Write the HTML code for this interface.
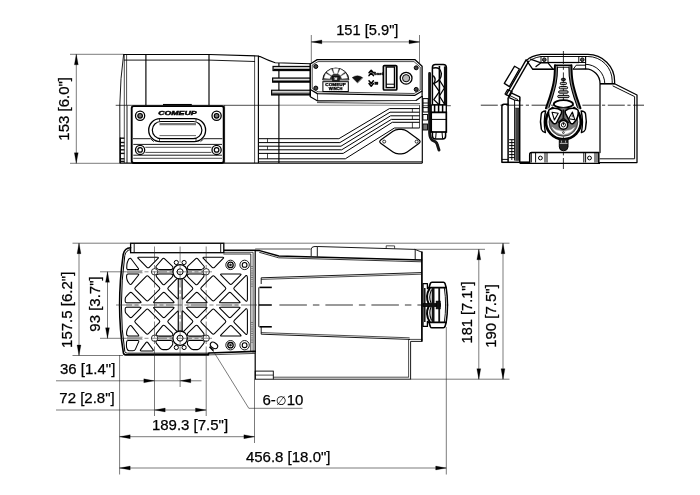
<!DOCTYPE html>
<html lang="en">
<head>
<meta charset="utf-8">
<title>Winch dimensions</title>
<style>
html,body{margin:0;padding:0;background:#fff;}
body{width:700px;height:495px;overflow:hidden;}
svg{display:block;will-change:transform;font-family:"Liberation Sans",sans-serif;}
</style>
</head>
<body>
<svg width="700" height="495" viewBox="0 0 700 495">
<rect width="700" height="495" fill="#fff"/>
<g>
<path d="M123.6,54.5 L209,54.5 L258.5,56" fill="none" stroke="#000" stroke-width="1.15" stroke-linejoin="round" stroke-linecap="round"/>
<path d="M124.3,60.1 L209,60.1 L254.6,61.5" fill="none" stroke="#000" stroke-width="0.9" stroke-linejoin="round" stroke-linecap="round"/>
<path d="M123.6,54.5 Q120.3,78 119.8,105 L119.9,163" fill="none" stroke="#000" stroke-width="0.9" stroke-linejoin="round" stroke-linecap="round"/>
<line x1="124.3" y1="54.5" x2="124.3" y2="163" stroke="#000" stroke-width="0.7"/>
<line x1="126.6" y1="54.5" x2="126.6" y2="105.3" stroke="#000" stroke-width="0.7"/>
<line x1="127" y1="105.3" x2="127" y2="163" stroke="#000" stroke-width="0.9"/>
<line x1="145.9" y1="54.5" x2="145.9" y2="105.3" stroke="#000" stroke-width="1.15"/>
<line x1="209" y1="54.5" x2="209" y2="105.3" stroke="#000" stroke-width="1.15"/>
<line x1="115.7" y1="105.3" x2="279" y2="105.3" stroke="#000" stroke-width="0.7"/>
<line x1="279" y1="105.2" x2="419.5" y2="105.2" stroke="#555" stroke-width="0.7"/>
<line x1="224.6" y1="105.3" x2="224.6" y2="163" stroke="#000" stroke-width="0.7"/>
<line x1="254.6" y1="56" x2="254.6" y2="163.1" stroke="#000" stroke-width="0.7"/>
<line x1="258.4" y1="56" x2="258.4" y2="163.1" stroke="#000" stroke-width="1.15"/>
<line x1="278.9" y1="63" x2="278.9" y2="163.1" stroke="#000" stroke-width="1.15"/>
<line x1="119.9" y1="163.1" x2="422.4" y2="163.1" stroke="#000" stroke-width="1.4"/>
<line x1="259" y1="161.6" x2="422" y2="161.6" stroke="#000" stroke-width="0.7"/>
<path d="M258.4,56.2 L260,56.6 Q268,60.5 275.2,62.8 L310.3,63.7" fill="none" stroke="#000" stroke-width="1.15" stroke-linejoin="round" stroke-linecap="round"/>
<line x1="120.2" y1="138.2" x2="124.4" y2="138.2" stroke="#111" stroke-width="1.4"/>
<line x1="120.2" y1="142.5" x2="124.4" y2="142.5" stroke="#111" stroke-width="1.4"/>
<line x1="120.2" y1="145.9" x2="124.4" y2="145.9" stroke="#111" stroke-width="1.4"/>
<line x1="120.2" y1="149.8" x2="124.4" y2="149.8" stroke="#111" stroke-width="1.4"/>
<line x1="120.2" y1="153.4" x2="124.4" y2="153.4" stroke="#111" stroke-width="1.4"/>
<line x1="120.2" y1="158.8" x2="124.4" y2="158.8" stroke="#111" stroke-width="1.4"/>
<line x1="120.2" y1="161.4" x2="124.4" y2="161.4" stroke="#111" stroke-width="1.4"/>
<line x1="120.3" y1="137.6" x2="120.3" y2="163" stroke="#000" stroke-width="1.3"/>
<rect x="131.7" y="106.1" width="92" height="56.9" rx="2.2" fill="none" stroke="#000" stroke-width="1.9"/>
<line x1="163" y1="104.6" x2="191.8" y2="104.6" stroke="#000" stroke-width="1.3"/>
<circle cx="140.1" cy="115.8" r="4.6" fill="none" stroke="#000" stroke-width="1.3"/>
<circle cx="140.1" cy="115.8" r="2.3" fill="#777" stroke="#000" stroke-width="1.2"/>
<circle cx="140.1" cy="149.9" r="4.6" fill="none" stroke="#000" stroke-width="1.3"/>
<circle cx="140.1" cy="149.9" r="2.3" fill="#fff" stroke="#000" stroke-width="1.2"/>
<circle cx="216.6" cy="115.8" r="4.6" fill="none" stroke="#000" stroke-width="1.3"/>
<circle cx="216.6" cy="115.8" r="2.3" fill="#777" stroke="#000" stroke-width="1.2"/>
<circle cx="216.6" cy="149.9" r="4.6" fill="none" stroke="#000" stroke-width="1.3"/>
<circle cx="216.6" cy="149.9" r="2.3" fill="#fff" stroke="#000" stroke-width="1.2"/>
<text x="177.4" y="114.6" font-size="6.2" text-anchor="middle" fill="#000" font-weight="bold" font-style="italic" textLength="38.5" lengthAdjust="spacingAndGlyphs" stroke="#000" stroke-width="0.45">COMEUP</text>
<rect x="148.7" y="118.7" width="56.9" height="22.9" rx="11.4" fill="none" stroke="#000" stroke-width="1.3"/>
<rect x="152.3" y="121.5" width="49.6" height="17.2" rx="8.6" fill="none" stroke="#000" stroke-width="1.2"/>
<line x1="159.5" y1="124.2" x2="196" y2="124.2" stroke="#777" stroke-width="2.2"/>
<line x1="159.5" y1="135.6" x2="196" y2="135.6" stroke="#555" stroke-width="0.9"/>
<line x1="159.5" y1="118.7" x2="159.5" y2="121.5" stroke="#000" stroke-width="0.7"/>
<line x1="196" y1="118.7" x2="196" y2="121.5" stroke="#000" stroke-width="0.7"/>
<line x1="159.5" y1="138.7" x2="159.5" y2="141.6" stroke="#000" stroke-width="0.7"/>
<line x1="196" y1="138.7" x2="196" y2="141.6" stroke="#000" stroke-width="0.7"/>
<path d="M133.3,138.7 L150.5,138.7 L153.5,141.4" fill="none" stroke="#000" stroke-width="0.9" stroke-linejoin="round" stroke-linecap="round"/>
<path d="M222,138.7 L203.8,138.7 L200.8,141.4" fill="none" stroke="#000" stroke-width="0.9" stroke-linejoin="round" stroke-linecap="round"/>
<line x1="133.3" y1="144.4" x2="222" y2="144.4" stroke="#000" stroke-width="0.9"/>
<line x1="145.3" y1="147.3" x2="211.4" y2="147.3" stroke="#000" stroke-width="0.7"/>
<line x1="145.3" y1="152.4" x2="211.4" y2="152.4" stroke="#000" stroke-width="0.7"/>
<line x1="133.3" y1="155.2" x2="222" y2="155.2" stroke="#000" stroke-width="0.9"/>
<line x1="133.3" y1="158.3" x2="222" y2="158.3" stroke="#000" stroke-width="0.7"/>
<polyline points="259,138.7 338.9,138.7 389.4,108.6 419.5,108.6" fill="none" stroke="#000" stroke-width="1.0" stroke-linejoin="round"/>
<polyline points="259,142.6 339.9,142.6 390,112.2 419.5,112.2" fill="none" stroke="#000" stroke-width="1.0" stroke-linejoin="round"/>
<polyline points="259,146.2 341,146.2 390.6,115.8 419.5,115.8" fill="none" stroke="#000" stroke-width="1.0" stroke-linejoin="round"/>
<polyline points="259,149.8 341.7,149.8 391.4,119.4 419.5,119.4" fill="none" stroke="#000" stroke-width="1.0" stroke-linejoin="round"/>
<polyline points="259,153.4 343.2,153.4 392.3,122.3 419.5,122.3" fill="none" stroke="#000" stroke-width="1.0" stroke-linejoin="round"/>
<polyline points="259,158.8 345.3,158.8 394.4,128 419.5,128" fill="none" stroke="#000" stroke-width="1.0" stroke-linejoin="round"/>
<line x1="267.5" y1="138.7" x2="267.5" y2="142.6" stroke="#000" stroke-width="0.7"/>
<line x1="267.5" y1="146.2" x2="267.5" y2="149.8" stroke="#000" stroke-width="0.7"/>
<line x1="267.5" y1="153.4" x2="267.5" y2="158.8" stroke="#000" stroke-width="0.7"/>
<line x1="412.4" y1="108.6" x2="412.4" y2="112.2" stroke="#000" stroke-width="0.7"/>
<line x1="412.4" y1="115.8" x2="412.4" y2="119.4" stroke="#000" stroke-width="0.7"/>
<line x1="412.4" y1="122.3" x2="412.4" y2="128" stroke="#000" stroke-width="0.7"/>
<line x1="419.5" y1="105.2" x2="419.5" y2="128" stroke="#000" stroke-width="0.7"/>
<path d="M381.01,143.45 Q378.4,141.6 381.01,139.75 L392.99,131.25 Q395.6,129.4 398.8,129.4 L401.4,129.4 Q404.6,129.4 407.19,131.28 L418.81,139.72 Q421.4,141.6 418.81,143.48 L407.19,151.92 Q404.6,153.8 401.4,153.8 L398.8,153.8 Q395.6,153.8 392.99,151.95 Z" fill="none" stroke="#000" stroke-width="1.2" stroke-linejoin="round" stroke-linecap="round"/>
<circle cx="384.2" cy="141.6" r="1.5" fill="none" stroke="#000" stroke-width="0.8"/>
<circle cx="416.6" cy="141.6" r="1.5" fill="none" stroke="#000" stroke-width="0.8"/>
<line x1="422.3" y1="96" x2="422.3" y2="163.1" stroke="#000" stroke-width="1.15"/>
<rect x="273" y="66.4" width="37.3" height="4.2" fill="#999" stroke="#000" stroke-width="1.1"/>
<line x1="273.5" y1="69.7" x2="310.3" y2="69.7" stroke="#000" stroke-width="1.3"/>
<line x1="274" y1="67.9" x2="310.3" y2="67.9" stroke="#eee" stroke-width="0.9"/>
<rect x="272.6" y="78" width="37.7" height="4.2" fill="#999" stroke="#000" stroke-width="1.1"/>
<line x1="273.1" y1="81.3" x2="310.3" y2="81.3" stroke="#000" stroke-width="1.3"/>
<line x1="273.6" y1="79.5" x2="310.3" y2="79.5" stroke="#eee" stroke-width="0.9"/>
<rect x="271.6" y="90.2" width="38.7" height="4.8" fill="#999" stroke="#000" stroke-width="1.1"/>
<line x1="272.1" y1="94.1" x2="310.3" y2="94.1" stroke="#000" stroke-width="1.3"/>
<line x1="272.6" y1="91.7" x2="310.3" y2="91.7" stroke="#eee" stroke-width="0.9"/>
<line x1="310.3" y1="63.7" x2="310.3" y2="96.7" stroke="#000" stroke-width="1.15"/>
<polygon points="310.3,64 317.2,59.6 414.8,59.6 422.1,66.2 422.1,91 415,95.3 317.4,93.6 310.3,89.5" fill="#fff" stroke="#000" stroke-width="1.3" stroke-linejoin="round"/>
<polygon points="312.2,65 318,61.6 414,61.6 420.2,67 420.2,90 414.2,93.5 318,91.8 312.2,88.5" fill="none" stroke="#000" stroke-width="0.7" stroke-linejoin="round"/>
<polyline points="310.3,89.5 310.3,96.7 317.7,100.9 416,100.5 422.1,96.3 422.1,91" fill="none" stroke="#000" stroke-width="1.2" stroke-linejoin="round"/>
<line x1="317.4" y1="93.6" x2="317.7" y2="100.9" stroke="#000" stroke-width="0.7"/>
<line x1="317" y1="102.6" x2="420" y2="103.6" stroke="#000" stroke-width="0.7"/>
<circle cx="315.8" cy="66.5" r="2" fill="#444" stroke="#000" stroke-width="1.0"/>
<circle cx="315.8" cy="88.1" r="2" fill="#444" stroke="#000" stroke-width="1.0"/>
<circle cx="416.2" cy="67.8" r="2" fill="#444" stroke="#000" stroke-width="1.0"/>
<circle cx="416.2" cy="89.4" r="2" fill="#444" stroke="#000" stroke-width="1.0"/>
<path d="M322.7,79.6 A13.1,11.6 0 0 1 348.90000000000003,79.6 Z" fill="#333" stroke="#000" stroke-width="0.8" stroke-linejoin="round" stroke-linecap="round"/>
<polygon points="347.38,78.08 345.77,73.54 341.05,76.13 341.9,78.51" fill="#fff" stroke="#fff" stroke-width="0.5" stroke-linejoin="round"/>
<polygon points="344.58,72.04 340.34,69.24 338.19,73.86 340.42,75.34" fill="#fff" stroke="#fff" stroke-width="0.5" stroke-linejoin="round"/>
<polygon points="338.42,68.67 333.18,68.67 334.42,73.56 337.18,73.56" fill="#fff" stroke="#fff" stroke-width="0.5" stroke-linejoin="round"/>
<polygon points="331.26,69.24 327.02,72.04 331.18,75.34 333.41,73.86" fill="#fff" stroke="#fff" stroke-width="0.5" stroke-linejoin="round"/>
<polygon points="325.83,73.54 324.22,78.08 329.7,78.51 330.55,76.13" fill="#fff" stroke="#fff" stroke-width="0.5" stroke-linejoin="round"/>
<rect x="332.6" y="76.4" width="6.6" height="4.8" fill="#222" stroke="#000" stroke-width="0.6"/>
<rect x="334.8" y="77.8" width="2.2" height="2" fill="#ddd" stroke="#ddd" stroke-width="0.3"/>
<rect x="322.9" y="81.7" width="25.4" height="9.8" fill="#fff" stroke="#000" stroke-width="1.0"/>
<text x="335.6" y="86.1" font-size="3.2" text-anchor="middle" fill="#000" font-weight="bold" textLength="20.5" lengthAdjust="spacingAndGlyphs" stroke="#000" stroke-width="0.25">COMEUP</text>
<text x="335.6" y="89.6" font-size="3.2" text-anchor="middle" fill="#000" font-weight="bold" textLength="13.5" lengthAdjust="spacingAndGlyphs" stroke="#000" stroke-width="0.25">WINCH</text>
<path d="M357.4,82.8 L352.2,77.6 Q357.4,73.8 362.6,77.6 Z" fill="#111" stroke="#000" stroke-width="0.4" stroke-linejoin="round" stroke-linecap="round"/>
<path d="M369,72.8 L371.2,70.2 L373.4,72.8 M369,75.6 L371.2,73 L373.4,75.6" fill="none" stroke="#000" stroke-width="1.5" stroke-linejoin="round" stroke-linecap="round"/>
<text x="373.8" y="75.4" font-size="3.8" text-anchor="start" fill="#000" font-weight="bold" textLength="9" lengthAdjust="spacingAndGlyphs" stroke="#000" stroke-width="0.3">Reset</text>
<path d="M369,80.8 L371.2,83.4 L373.4,80.8 M369,83.6 L371.2,86.2 L373.4,83.6" fill="none" stroke="#000" stroke-width="1.5" stroke-linejoin="round" stroke-linecap="round"/>
<rect x="374.8" y="82" width="3.2" height="2.6" fill="#111" stroke="#000" stroke-width="0.3"/>
<rect x="383.4" y="65.6" width="13.4" height="24.4" rx="1" fill="none" stroke="#000" stroke-width="1.7"/>
<rect x="386.2" y="67" width="8.3" height="20.6" fill="none" stroke="#000" stroke-width="1.4"/>
<line x1="386.2" y1="84.2" x2="394.5" y2="84.2" stroke="#000" stroke-width="1.0"/>
<circle cx="406.1" cy="78.2" r="5.9" fill="none" stroke="#000" stroke-width="1.3"/>
<circle cx="406.1" cy="78.2" r="3.6" fill="#bbb" stroke="#000" stroke-width="1.0"/>
<path d="M429.6,73.4 L429.6,133 Q429.9,138.6 432.4,140.2 L435.4,141.8 Q437,142.8 437.4,145 L439,150" fill="none" stroke="#161616" stroke-width="2.9" stroke-linejoin="round" stroke-linecap="round"/>
<path d="M432.4,67.4 Q432.4,64.4 435.4,64.4 L443.2,64.4 Q446.4,64.4 446.4,67.6 L446.4,105 L432.4,105 Z" fill="#fff" stroke="#000" stroke-width="1.5" stroke-linejoin="round" stroke-linecap="round"/>
<line x1="445.1" y1="66.4" x2="445.1" y2="105" stroke="#111" stroke-width="2.4"/>
<line x1="439.4" y1="66" x2="439.4" y2="105" stroke="#000" stroke-width="1.6"/>
<path d="M433.6,68 Q440.6,66.6 441.4,73.6 Q441.4,80.6 433.8,83.6" fill="none" stroke="#000" stroke-width="1.4" stroke-linejoin="round" stroke-linecap="round"/>
<path d="M433.8,83.6 L439.4,91.6 L433.8,99.6 L439.4,105 M439.4,80 L444.4,88 L439.4,96 L444.4,104 M433.6,76 Q436.6,79.6 433.6,83.6" fill="none" stroke="#000" stroke-width="1.3" stroke-linejoin="round" stroke-linecap="round"/>
<line x1="422.5" y1="105.7" x2="450.8" y2="105.7" stroke="#000" stroke-width="0.7"/>
<rect x="423" y="98.6" width="5.2" height="13.4" fill="none" stroke="#000" stroke-width="1.0"/>
<line x1="423" y1="103" x2="428.2" y2="103" stroke="#000" stroke-width="0.9"/>
<line x1="423" y1="107.6" x2="428.2" y2="107.6" stroke="#000" stroke-width="0.9"/>
<rect x="431.2" y="105" width="15.1" height="7.4" fill="#fff" stroke="#000" stroke-width="1.3"/>
<line x1="434.6" y1="105" x2="434.6" y2="112.4" stroke="#000" stroke-width="1.5"/>
<line x1="438.6" y1="105" x2="438.6" y2="112.4" stroke="#000" stroke-width="1.5"/>
<line x1="442.6" y1="105" x2="442.6" y2="112.4" stroke="#000" stroke-width="1.5"/>
<rect x="431.2" y="112.4" width="15.1" height="19.6" fill="#fff" stroke="#000" stroke-width="1.7"/>
<line x1="431.2" y1="119.4" x2="446.3" y2="119.4" stroke="#000" stroke-width="1.0"/>
<path d="M432.4,132 L432.4,136 Q432.6,139 435.4,139 L442.6,139 Q445.6,139 445.6,136 L445.6,132" fill="none" stroke="#000" stroke-width="1.5" stroke-linejoin="round" stroke-linecap="round"/>
<line x1="436.2" y1="132" x2="435.6" y2="138.8" stroke="#000" stroke-width="1.0"/>
<line x1="442" y1="132" x2="442.6" y2="138.8" stroke="#000" stroke-width="1.0"/>
<rect x="422.9" y="114.5" width="4.6" height="5.5" fill="none" stroke="#000" stroke-width="0.9"/>
<rect x="422.9" y="124" width="4.6" height="6" fill="#777" stroke="#000" stroke-width="0.9"/>
</g>
<g>
<line x1="480.8" y1="105.2" x2="644" y2="105.2" stroke="#111" stroke-width="0.85" stroke-dasharray="17 2.6 3.2 2.6"/>
<line x1="563.4" y1="51" x2="563.4" y2="169" stroke="#111" stroke-width="0.85" stroke-dasharray="13 2.6 3.2 2.6"/>
<path d="M526.6,60.4 Q531,56 541,54.4 L587.9,54.4 A26.7,26.7 0 0 1 614.6,81 L614.6,83.6" fill="none" stroke="#000" stroke-width="1.25" stroke-linejoin="round" stroke-linecap="round"/>
<path d="M528.6,61.8 Q532,58 541,56.5 L587.9,56.5 A24.3,24.3 0 0 1 612.2,80.8 L612.2,83.6" fill="none" stroke="#000" stroke-width="0.95" stroke-linejoin="round" stroke-linecap="round"/>
<path d="M585.6,64.3 A19.2,19.2 0 0 1 604.8,83.6" fill="none" stroke="#000" stroke-width="0.95" stroke-linejoin="round" stroke-linecap="round"/>
<path d="M573.3,69.1 L585.6,68.8 A14.6,14.6 0 0 1 600,83.6 L600,152.5" fill="none" stroke="#000" stroke-width="1.25" stroke-linejoin="round" stroke-linecap="round"/>
<line x1="548" y1="62.5" x2="579" y2="62.5" stroke="#000" stroke-width="1.25"/>
<line x1="532.6" y1="69.2" x2="554" y2="69.2" stroke="#000" stroke-width="1.6"/>
<path d="M526.6,60.4 L532.6,69.2 M530.5,59.2 L541,62.8 L548,62.8 M541,62.8 L536,66.6 M548,62.8 L552.6,68.6" fill="none" stroke="#000" stroke-width="1.3" stroke-linejoin="round" stroke-linecap="round"/>
<path d="M573.3,69.1 L576.2,65.2 L585.6,65.2 M585.6,56.5 L585.6,68.8" fill="none" stroke="#000" stroke-width="0.95" stroke-linejoin="round" stroke-linecap="round"/>
<rect x="541" y="56.5" width="7" height="6" fill="none" stroke="#000" stroke-width="0.95"/>
<circle cx="544.3" cy="59.7" r="1.8" fill="#555" stroke="#000" stroke-width="1.0"/>
<rect x="578.8" y="56.5" width="6.8" height="6" fill="none" stroke="#000" stroke-width="0.95"/>
<circle cx="582.3" cy="59.7" r="1.8" fill="#555" stroke="#000" stroke-width="1.0"/>
<line x1="600" y1="83.8" x2="614.6" y2="83.8" stroke="#000" stroke-width="1.6"/>
<path d="M614.6,83.8 L637,95 L637,162.5 L598.8,162.5" fill="none" stroke="#000" stroke-width="1.25" stroke-linejoin="round" stroke-linecap="round"/>
<path d="M613,86 L634.6,96.6 L634.6,158.8 L600,158.8" fill="none" stroke="#000" stroke-width="0.95" stroke-linejoin="round" stroke-linecap="round"/>
<path d="M519.7,162.4 L529.7,162.4 L529.7,154.5 Q529.7,152.5 531.7,152.5 L598.8,152.5 L598.8,162.5" fill="none" stroke="#000" stroke-width="1.5" stroke-linejoin="round" stroke-linecap="round"/>
<line x1="519.7" y1="163.4" x2="600" y2="163.4" stroke="#000" stroke-width="1.2"/>
<line x1="531.3" y1="152.5" x2="531.3" y2="162.5" stroke="#000" stroke-width="0.95"/>
<line x1="535.6" y1="152.5" x2="535.6" y2="162.5" stroke="#000" stroke-width="0.95"/>
<line x1="545" y1="152.5" x2="545" y2="162.5" stroke="#000" stroke-width="0.95"/>
<line x1="547" y1="152.5" x2="547" y2="162.5" stroke="#000" stroke-width="0.95"/>
<line x1="583.8" y1="152.5" x2="583.8" y2="162.5" stroke="#000" stroke-width="0.95"/>
<line x1="585.6" y1="152.5" x2="585.6" y2="162.5" stroke="#000" stroke-width="0.95"/>
<line x1="595" y1="152.5" x2="595" y2="162.5" stroke="#000" stroke-width="0.95"/>
<line x1="597" y1="152.5" x2="597" y2="162.5" stroke="#000" stroke-width="0.95"/>
<circle cx="540.4" cy="158" r="1.9" fill="none" stroke="#000" stroke-width="1.0"/>
<circle cx="589.5" cy="158" r="1.9" fill="none" stroke="#000" stroke-width="1.0"/>
<path d="M501.9,162.3 L501.9,106.4 Q501.9,104.3 503.9,104.3 L508.1,104.3" fill="none" stroke="#000" stroke-width="1.5" stroke-linejoin="round" stroke-linecap="round"/>
<line x1="508.1" y1="97.6" x2="508.1" y2="162.3" stroke="#000" stroke-width="1.5"/>
<line x1="514.6" y1="99.6" x2="514.6" y2="160.5" stroke="#000" stroke-width="0.95"/>
<rect x="515.7" y="108" width="3.2" height="52.5" fill="#444" stroke="#000" stroke-width="0.4"/>
<line x1="519.7" y1="96.8" x2="519.7" y2="162.3" stroke="#000" stroke-width="1.5"/>
<line x1="501.9" y1="162.3" x2="529.7" y2="162.3" stroke="#000" stroke-width="1.5"/>
<line x1="501.9" y1="159.4" x2="508.1" y2="159.4" stroke="#000" stroke-width="0.95"/>
<line x1="509.2" y1="139.7" x2="514.5" y2="139.7" stroke="#000" stroke-width="1.0"/>
<line x1="509.2" y1="142.6" x2="514.5" y2="142.6" stroke="#000" stroke-width="1.0"/>
<line x1="509.2" y1="145.6" x2="514.5" y2="145.6" stroke="#000" stroke-width="1.0"/>
<line x1="509.2" y1="148.6" x2="514.5" y2="148.6" stroke="#000" stroke-width="1.0"/>
<line x1="509.2" y1="151.6" x2="514.5" y2="151.6" stroke="#000" stroke-width="1.0"/>
<line x1="509.2" y1="154.6" x2="514.5" y2="154.6" stroke="#000" stroke-width="1.0"/>
<line x1="509.2" y1="157.6" x2="514.5" y2="157.6" stroke="#000" stroke-width="1.0"/>
<line x1="511.8" y1="139.7" x2="511.8" y2="160" stroke="#000" stroke-width="0.9"/>
<polygon points="510.6,92.6 519.7,96.9 519.7,101 514,99.8 508.6,97.4" fill="#fff" stroke="#000" stroke-width="1.2" stroke-linejoin="round"/>
<line x1="509.6" y1="95.4" x2="518" y2="99.6" stroke="#000" stroke-width="0.9"/>
<polygon points="505,94 507.6,89.6 512.2,91.8 509.6,96.4" fill="#fff" stroke="#000" stroke-width="1.2" stroke-linejoin="round"/>
<line x1="526.4" y1="59.4" x2="505.9" y2="95.3" stroke="#000" stroke-width="1.4"/>
<line x1="528.9" y1="60.8" x2="508.4" y2="96.7" stroke="#000" stroke-width="1.4"/>
<polygon points="514.6,66.2 519.4,69 509.4,86.6 504.3,83.4" fill="#fff" stroke="#000" stroke-width="1.3" stroke-linejoin="round"/>
<path d="M556.2,66.2 C556.2,72 555.8,78 554.8,83 C553.8,88 552.6,92 551.2,96.6 C550.0,100.4 548.6,104 547.4,108" fill="none" stroke="#8a8a8a" stroke-width="2.6" stroke-linejoin="round" stroke-linecap="round"/>
<path d="M554.9,65.3 C554.9,72 554.5,78 553.5,83 C552.5,88 551.3,92 549.9,96.6 C548.7,100.4 547.3,104 545.9,108.4" fill="none" stroke="#000" stroke-width="1.9" stroke-linejoin="round" stroke-linecap="round"/>
<path d="M557.5,67 C557.5,73 557.1,78.4 556.1,83.4 C555.1,88.4 553.9,92.4 552.5,97 C551.3,100.8 550.0,104 549.0,107.4" fill="none" stroke="#000" stroke-width="1.1" stroke-linejoin="round" stroke-linecap="round"/>
<path d="M570.2,66.2 C570.2,72 570.6000000000001,78 571.6000000000001,83 C572.6000000000001,88 573.8000000000001,92 575.2,96.6 C576.4000000000001,100.4 577.8000000000001,104 579.0000000000001,108" fill="none" stroke="#8a8a8a" stroke-width="2.6" stroke-linejoin="round" stroke-linecap="round"/>
<path d="M571.5000000000001,65.3 C571.5000000000001,72 571.9000000000001,78 572.9000000000001,83 C573.9000000000001,88 575.1000000000001,92 576.5000000000001,96.6 C577.7,100.4 579.1000000000001,104 580.5000000000001,108.4" fill="none" stroke="#000" stroke-width="1.9" stroke-linejoin="round" stroke-linecap="round"/>
<path d="M568.9000000000001,67 C568.9000000000001,73 569.3000000000001,78.4 570.3000000000001,83.4 C571.3000000000001,88.4 572.5000000000001,92.4 573.9000000000001,97 C575.1000000000001,100.8 576.4000000000001,104 577.4000000000001,107.4" fill="none" stroke="#000" stroke-width="1.1" stroke-linejoin="round" stroke-linecap="round"/>
<line x1="554.9" y1="65.3" x2="571.5" y2="65.3" stroke="#000" stroke-width="1.6"/>
<line x1="557.5" y1="67.3" x2="568.9" y2="67.3" stroke="#000" stroke-width="0.9"/>
<rect x="561.4" y="78.35" width="4" height="2.3" rx="1.15" fill="#333" stroke="#000" stroke-width="1.0"/>
<rect x="560.3" y="82.35" width="6.2" height="2.3" rx="1.15" fill="#bbb" stroke="#000" stroke-width="1.0"/>
<rect x="559.2" y="86.55" width="8.4" height="2.3" rx="1.15" fill="#bbb" stroke="#000" stroke-width="1.0"/>
<rect x="558.6" y="90.85" width="9.6" height="2.3" rx="1.15" fill="#bbb" stroke="#000" stroke-width="1.0"/>
<rect x="557.7" y="95.35" width="11.4" height="2.3" rx="1.15" fill="#bbb" stroke="#000" stroke-width="1.0"/>
<ellipse cx="563.4" cy="104" rx="9.6" ry="3.8" fill="#fff" stroke="#000" stroke-width="1.8"/>
<circle cx="563.4" cy="121.9" r="14.4" fill="#777" stroke="#000" stroke-width="0.6"/>
<path d="M552.6,108 A17.5,17.5 0 1 0 574.2,108" fill="none" stroke="#000" stroke-width="2.7" stroke-linejoin="round" stroke-linecap="round"/>
<path d="M552.4,127.6 Q555,133.6 563.4,134.4 Q571.8,133.6 574.4,127.6 Q571,130.6 568.4,130.4 Q563.4,132.6 558.4,130.4 Q555.8,130.6 552.4,127.6 Z" fill="#fff" stroke="#fff" stroke-width="0.5" stroke-linejoin="round" stroke-linecap="round"/>
<path d="M545.6,111 Q542,111.2 541.3,113.6 Q539.6,121.5 541.4,129.4 Q542.2,131.8 545.4,132.6 Q543.2,122 545.6,111 Z" fill="#fff" stroke="#000" stroke-width="1.4" stroke-linejoin="round" stroke-linecap="round"/>
<path d="M581.2,111 Q584.8,111.2 585.5,113.6 Q587.2,121.5 585.4,129.4 Q584.6,131.8 581.4,132.6 Q583.6,122 581.2,111 Z" fill="#fff" stroke="#000" stroke-width="1.4" stroke-linejoin="round" stroke-linecap="round"/>
<path d="M549.8,109.2 Q556.3,107 561.3,110.6 Q562.0,111.6 561.2,113.6 L556.4,123 Q555.2,124.4 553.4,123.4 Q548.0,118.4 548.6,111 Q548.8,109.6 549.8,109.2 Z" fill="#fff" stroke="#000" stroke-width="1.5" stroke-linejoin="round" stroke-linecap="round"/>
<path d="M577.0,109.2 Q570.5,107 565.5,110.6 Q564.8,111.6 565.5999999999999,113.6 L570.4,123 Q571.5999999999999,124.4 573.4,123.4 Q578.8,118.4 578.1999999999999,111 Q578.0,109.6 577.0,109.2 Z" fill="#fff" stroke="#000" stroke-width="1.5" stroke-linejoin="round" stroke-linecap="round"/>
<path d="M552,112.2 L558.2,113.2 L554.4,120 Z" fill="#fff" stroke="#000" stroke-width="1.1" stroke-linejoin="round" stroke-linecap="round"/>
<path d="M574.8,119.8 L568.6,118.8 L572.4,112 Z" fill="#fff" stroke="#000" stroke-width="1.1" stroke-linejoin="round" stroke-linecap="round"/>
<line x1="572.2" y1="114.4" x2="572.2" y2="117.2" stroke="#000" stroke-width="0.8"/>
<path d="M563.4,110.4 L563.4,118.4 M558.6,122.4 L563.4,118.4 L568.2,122.4" fill="none" stroke="#111" stroke-width="1.8" stroke-linejoin="round" stroke-linecap="round"/>
<circle cx="563.4" cy="124.9" r="4.3" fill="#fff" stroke="#000" stroke-width="1.5"/>
<circle cx="563.4" cy="124.9" r="2.1" fill="none" stroke="#000" stroke-width="0.9"/>
<line x1="563.4" y1="122.4" x2="563.4" y2="125.2" stroke="#000" stroke-width="1.0"/>
<circle cx="563.4" cy="132.6" r="0.9" fill="#fff" stroke="#000" stroke-width="0.7"/>
<path d="M559.3,139.6 L559.3,147 Q559.5,150.8 563.5,150.8 Q567.7,150.8 568,147 L568,139.6" fill="#222" stroke="#000" stroke-width="1.0" stroke-linejoin="round" stroke-linecap="round"/>
<line x1="559.8" y1="143.4" x2="567.6" y2="143.4" stroke="#ddd" stroke-width="0.8"/>
<line x1="561.5" y1="140.6" x2="561.5" y2="142.6" stroke="#ddd" stroke-width="0.7"/>
<line x1="565.5" y1="140.6" x2="565.5" y2="142.6" stroke="#ddd" stroke-width="0.7"/>
</g>
<g>
<rect x="130.6" y="243.3" width="93.2" height="9.4" fill="none" stroke="#000" stroke-width="1.3"/>
<line x1="134.2" y1="243.3" x2="134.2" y2="252.7" stroke="#000" stroke-width="0.9"/>
<line x1="220.7" y1="243.3" x2="220.7" y2="252.7" stroke="#000" stroke-width="0.9"/>
<path d="M130.6,247.8 Q124.5,248 123.2,254.5 Q119.6,280 119.6,305 Q119.6,330 123.3,352.4 Q123.7,354.9 125.6,354.9 L208.3,354.9 L208.8,353 L255.2,351.4" fill="none" stroke="#000" stroke-width="1.6" stroke-linejoin="round" stroke-linecap="round"/>
<line x1="208.3" y1="354.9" x2="255.2" y2="353.4" stroke="#000" stroke-width="0.7"/>
<path d="M130.6,249.6 Q126,250 124.8,255.5 Q121.4,280 121.4,305 Q121.4,330 124.8,351.4 Q125.2,353.2 127.4,353.2 L208,353.2" fill="none" stroke="#000" stroke-width="1.0" stroke-linejoin="round" stroke-linecap="round"/>
<line x1="223.8" y1="250.2" x2="255.6" y2="250.2" stroke="#000" stroke-width="1.4"/>
<path d="M223.8,252.3 L253.1,252.3 L253.1,352.4" fill="none" stroke="#000" stroke-width="0.7" stroke-linejoin="round" stroke-linecap="round"/>
<path d="M223.8,254 L250.8,254 L250.8,351.6" fill="none" stroke="#000" stroke-width="0.8" stroke-linejoin="round" stroke-linecap="round"/>
<line x1="255.2" y1="250.2" x2="255.2" y2="379.2" stroke="#000" stroke-width="1.2"/>
<line x1="252" y1="266" x2="252" y2="288" stroke="#666" stroke-width="1.6" stroke-dasharray="0.9 1.3"/>
<line x1="252" y1="322" x2="252" y2="344" stroke="#666" stroke-width="1.6" stroke-dasharray="0.9 1.3"/>
<path d="M129.67,292.94 Q130.8,291.8 131.93,292.94 L140.59,301.66 Q141.72,302.8 140.12,302.8 L126.8,302.8 Q125.2,302.8 125.2,301.2 L125.2,299.04 Q125.2,297.44 126.33,296.31 Z" fill="none" stroke="#000" stroke-width="1.05" stroke-linejoin="round" stroke-linecap="round"/>
<path d="M129.67,317.06 Q130.8,318.2 131.93,317.06 L140.59,308.34 Q141.72,307.2 140.12,307.2 L126.8,307.2 Q125.2,307.2 125.2,308.8 L125.2,310.96 Q125.2,312.56 126.33,313.69 Z" fill="none" stroke="#000" stroke-width="1.05" stroke-linejoin="round" stroke-linecap="round"/>
<path d="M162.67,292.94 Q163.8,291.8 164.93,292.94 L173.59,301.66 Q174.72,302.8 173.12,302.8 L154.48,302.8 Q152.88,302.8 154.01,301.66 Z" fill="none" stroke="#000" stroke-width="1.05" stroke-linejoin="round" stroke-linecap="round"/>
<path d="M162.67,317.06 Q163.8,318.2 164.93,317.06 L173.59,308.34 Q174.72,307.2 173.12,307.2 L154.48,307.2 Q152.88,307.2 154.01,308.34 Z" fill="none" stroke="#000" stroke-width="1.05" stroke-linejoin="round" stroke-linecap="round"/>
<path d="M195.67,292.94 Q196.8,291.8 197.93,292.94 L206.59,301.66 Q207.72,302.8 206.12,302.8 L187.48,302.8 Q185.88,302.8 187.01,301.66 Z" fill="none" stroke="#000" stroke-width="1.05" stroke-linejoin="round" stroke-linecap="round"/>
<path d="M195.67,317.06 Q196.8,318.2 197.93,317.06 L206.59,308.34 Q207.72,307.2 206.12,307.2 L187.48,307.2 Q185.88,307.2 187.01,308.34 Z" fill="none" stroke="#000" stroke-width="1.05" stroke-linejoin="round" stroke-linecap="round"/>
<path d="M228.67,292.94 Q229.8,291.8 230.93,292.94 L239.59,301.66 Q240.72,302.8 239.12,302.8 L220.48,302.8 Q218.88,302.8 220.01,301.66 Z" fill="none" stroke="#000" stroke-width="1.05" stroke-linejoin="round" stroke-linecap="round"/>
<path d="M228.67,317.06 Q229.8,318.2 230.93,317.06 L239.59,308.34 Q240.72,307.2 239.12,307.2 L220.48,307.2 Q218.88,307.2 220.01,308.34 Z" fill="none" stroke="#000" stroke-width="1.05" stroke-linejoin="round" stroke-linecap="round"/>
<path d="M146.17,276.34 Q147.3,275.2 148.43,276.34 L159.27,287.26 Q160.4,288.4 159.27,289.54 L148.43,300.46 Q147.3,301.6 146.17,300.46 L135.33,289.54 Q134.2,288.4 135.33,287.26 Z" fill="none" stroke="#000" stroke-width="1.05" stroke-linejoin="round" stroke-linecap="round"/>
<path d="M146.17,333.66 Q147.3,334.8 148.43,333.66 L159.27,322.74 Q160.4,321.6 159.27,320.46 L148.43,309.54 Q147.3,308.4 146.17,309.54 L135.33,320.46 Q134.2,321.6 135.33,322.74 Z" fill="none" stroke="#000" stroke-width="1.05" stroke-linejoin="round" stroke-linecap="round"/>
<path d="M212.17,276.34 Q213.3,275.2 214.43,276.34 L225.27,287.26 Q226.4,288.4 225.27,289.54 L214.43,300.46 Q213.3,301.6 212.17,300.46 L201.33,289.54 Q200.2,288.4 201.33,287.26 Z" fill="none" stroke="#000" stroke-width="1.05" stroke-linejoin="round" stroke-linecap="round"/>
<path d="M212.17,333.66 Q213.3,334.8 214.43,333.66 L225.27,322.74 Q226.4,321.6 225.27,320.46 L214.43,309.54 Q213.3,308.4 212.17,309.54 L201.33,320.46 Q200.2,321.6 201.33,322.74 Z" fill="none" stroke="#000" stroke-width="1.05" stroke-linejoin="round" stroke-linecap="round"/>
<path d="M178.3,297.98 Q178.3,299.58 177.17,298.45 L168.33,289.54 Q167.2,288.4 168.33,287.26 L177.17,278.35 Q178.3,277.22 178.3,278.82 Z" fill="none" stroke="#000" stroke-width="1.05" stroke-linejoin="round" stroke-linecap="round"/>
<path d="M178.3,312.02 Q178.3,310.42 177.17,311.55 L168.33,320.46 Q167.2,321.6 168.33,322.74 L177.17,331.65 Q178.3,332.78 178.3,331.18 Z" fill="none" stroke="#000" stroke-width="1.05" stroke-linejoin="round" stroke-linecap="round"/>
<path d="M182.1,278.61 Q182.1,277.01 183.23,278.15 L192.27,287.26 Q193.4,288.4 192.27,289.54 L183.23,298.65 Q182.1,299.79 182.1,298.19 Z" fill="none" stroke="#000" stroke-width="1.05" stroke-linejoin="round" stroke-linecap="round"/>
<path d="M182.1,331.39 Q182.1,332.99 183.23,331.85 L192.27,322.74 Q193.4,321.6 192.27,320.46 L183.23,311.35 Q182.1,310.21 182.1,311.81 Z" fill="none" stroke="#000" stroke-width="1.05" stroke-linejoin="round" stroke-linecap="round"/>
<path d="M245.17,276.34 Q246.3,275.2 246.8,275.7 L246.9,275.8 Q247.4,276.31 247.4,277.91 L247.4,298.89 Q247.4,300.49 246.9,301 L246.8,301.1 Q246.3,301.6 245.17,300.46 L234.33,289.54 Q233.2,288.4 234.33,287.26 Z" fill="none" stroke="#000" stroke-width="1.05" stroke-linejoin="round" stroke-linecap="round"/>
<path d="M245.17,333.66 Q246.3,334.8 246.8,334.3 L246.9,334.2 Q247.4,333.69 247.4,332.09 L247.4,311.11 Q247.4,309.51 246.9,309 L246.8,308.9 Q246.3,308.4 245.17,309.54 L234.33,320.46 Q233.2,321.6 234.33,322.74 Z" fill="none" stroke="#000" stroke-width="1.05" stroke-linejoin="round" stroke-linecap="round"/>
<path d="M126.62,275.6 Q126.7,274 128.3,274 L137.8,274 Q139.4,274 138.41,275.26 L131.59,283.94 Q130.6,285.2 129.59,283.96 L128.61,282.74 Q127.6,281.5 127.12,279.97 L126.98,279.53 Q126.5,278 126.58,276.4 Z" fill="none" stroke="#000" stroke-width="1.05" stroke-linejoin="round" stroke-linecap="round"/>
<path d="M126.62,334.4 Q126.7,336 128.3,336 L137.8,336 Q139.4,336 138.41,334.74 L131.59,326.06 Q130.6,324.8 129.59,326.04 L128.61,327.26 Q127.6,328.5 127.12,330.03 L126.98,330.47 Q126.5,332 126.58,333.6 Z" fill="none" stroke="#000" stroke-width="1.05" stroke-linejoin="round" stroke-linecap="round"/>
<path d="M162.49,284.16 Q163.5,285.4 164.66,284.29 L171.94,277.31 Q173.1,276.2 172.78,275.15 L172.72,274.95 Q172.4,273.9 170.8,273.9 L159.2,273.9 Q157.6,273.9 156.69,274.72 L156.51,274.88 Q155.6,275.7 156.61,276.94 Z" fill="none" stroke="#000" stroke-width="1.05" stroke-linejoin="round" stroke-linecap="round"/>
<path d="M162.49,325.84 Q163.5,324.6 164.66,325.71 L171.94,332.69 Q173.1,333.8 172.78,334.85 L172.72,335.05 Q172.4,336.1 170.8,336.1 L159.2,336.1 Q157.6,336.1 156.69,335.28 L156.51,335.12 Q155.6,334.3 156.61,333.06 Z" fill="none" stroke="#000" stroke-width="1.05" stroke-linejoin="round" stroke-linecap="round"/>
<path d="M197.71,284.16 Q196.7,285.4 195.54,284.29 L188.26,277.31 Q187.1,276.2 187.42,275.15 L187.48,274.95 Q187.8,273.9 189.4,273.9 L201,273.9 Q202.6,273.9 203.51,274.72 L203.69,274.88 Q204.6,275.7 203.59,276.94 Z" fill="none" stroke="#000" stroke-width="1.05" stroke-linejoin="round" stroke-linecap="round"/>
<path d="M197.71,325.84 Q196.7,324.6 195.54,325.71 L188.26,332.69 Q187.1,333.8 187.42,334.85 L187.48,335.05 Q187.8,336.1 189.4,336.1 L201,336.1 Q202.6,336.1 203.51,335.28 L203.69,335.12 Q204.6,334.3 203.59,333.06 Z" fill="none" stroke="#000" stroke-width="1.05" stroke-linejoin="round" stroke-linecap="round"/>
<path d="M240.12,274 Q241.72,274 240.59,275.14 L231.93,283.86 Q230.8,285 229.67,283.86 L221.01,275.14 Q219.88,274 221.48,274 Z" fill="none" stroke="#000" stroke-width="1.05" stroke-linejoin="round" stroke-linecap="round"/>
<path d="M240.12,336 Q241.72,336 240.59,334.86 L231.93,326.14 Q230.8,325 229.67,326.14 L221.01,334.86 Q219.88,336 221.48,336 Z" fill="none" stroke="#000" stroke-width="1.05" stroke-linejoin="round" stroke-linecap="round"/>
<path d="M129.44,258.56 Q130.3,257.7 131.26,258.98 L138.24,268.22 Q139.2,269.5 137.6,269.5 L128.3,269.5 Q126.7,269.5 126.75,267.9 L126.85,265.1 Q126.9,263.5 127.47,262.01 L127.83,261.09 Q128.4,259.6 129.26,258.74 Z" fill="none" stroke="#000" stroke-width="1.05" stroke-linejoin="round" stroke-linecap="round"/>
<path d="M162.45,258.91 Q163.5,257.7 164.65,258.81 L172.05,265.89 Q173.2,267 172.88,268.18 L172.82,268.42 Q172.5,269.6 170.9,269.6 L159.9,269.6 Q158.3,269.6 157.05,268.6 L156.55,268.2 Q155.3,267.2 156.35,265.99 Z" fill="none" stroke="#000" stroke-width="1.05" stroke-linejoin="round" stroke-linecap="round"/>
<path d="M155.91,341.4 Q156,340.4 157.6,340.4 L170.9,340.4 Q172.5,340.4 172.69,341.99 L172.81,342.91 Q173,344.5 171.94,345.7 L169.56,348.4 Q168.5,349.6 166.9,349.6 L163,349.6 Q161.4,349.6 160.4,348.35 L156.8,343.85 Q155.8,342.6 155.89,341.6 Z" fill="none" stroke="#000" stroke-width="1.05" stroke-linejoin="round" stroke-linecap="round"/>
<path d="M197.75,258.91 Q196.7,257.7 195.55,258.81 L188.15,265.89 Q187,267 187.32,268.18 L187.38,268.42 Q187.7,269.6 189.3,269.6 L200.3,269.6 Q201.9,269.6 203.15,268.6 L203.65,268.2 Q204.9,267.2 203.85,265.99 Z" fill="none" stroke="#000" stroke-width="1.05" stroke-linejoin="round" stroke-linecap="round"/>
<path d="M204.29,341.4 Q204.2,340.4 202.6,340.4 L189.3,340.4 Q187.7,340.4 187.51,341.99 L187.39,342.91 Q187.2,344.5 188.26,345.7 L190.64,348.4 Q191.7,349.6 193.3,349.6 L197.2,349.6 Q198.8,349.6 199.8,348.35 L203.4,343.85 Q204.4,342.6 204.31,341.6 Z" fill="none" stroke="#000" stroke-width="1.05" stroke-linejoin="round" stroke-linecap="round"/>
<path d="M157.52,257.3 Q159.12,257.3 157.99,258.44 L149.23,267.26 Q148.1,268.4 146.97,267.26 L138.21,258.44 Q137.08,257.3 138.68,257.3 Z" fill="none" stroke="#000" stroke-width="1.05" stroke-linejoin="round" stroke-linecap="round"/>
<path d="M222.72,257.3 Q224.32,257.3 223.19,258.44 L214.43,267.26 Q213.3,268.4 212.17,267.26 L203.41,258.44 Q202.28,257.3 203.88,257.3 Z" fill="none" stroke="#000" stroke-width="1.05" stroke-linejoin="round" stroke-linecap="round"/>
<path d="M126.55,342 Q126.6,340.4 128.2,340.4 L137.7,340.4 Q139.3,340.4 138.65,341.86 L135.35,349.34 Q134.7,350.8 133.1,350.8 L129.4,350.8 Q127.8,350.8 127.25,349.3 L126.95,348.5 Q126.4,347 126.45,345.4 Z" fill="none" stroke="#000" stroke-width="1.05" stroke-linejoin="round" stroke-linecap="round"/>
<path d="M145.93,342.68 Q146.9,341.4 147.86,342.68 L153.04,349.62 Q154,350.9 152.4,350.9 L141.3,350.9 Q139.7,350.9 140.67,349.62 Z" fill="none" stroke="#000" stroke-width="1.05" stroke-linejoin="round" stroke-linecap="round"/>
<line x1="127" y1="270.8" x2="142.6" y2="270.8" stroke="#222" stroke-width="0.5"/>
<line x1="127" y1="272.8" x2="142.6" y2="272.8" stroke="#222" stroke-width="0.5"/>
<line x1="127" y1="337.2" x2="142.6" y2="337.2" stroke="#222" stroke-width="0.5"/>
<line x1="127" y1="339.2" x2="142.6" y2="339.2" stroke="#222" stroke-width="0.5"/>
<line x1="158.2" y1="270.8" x2="172.6" y2="270.8" stroke="#222" stroke-width="0.5"/>
<line x1="158.2" y1="272.8" x2="172.6" y2="272.8" stroke="#222" stroke-width="0.5"/>
<line x1="158.2" y1="337.2" x2="172.6" y2="337.2" stroke="#222" stroke-width="0.5"/>
<line x1="158.2" y1="339.2" x2="172.6" y2="339.2" stroke="#222" stroke-width="0.5"/>
<line x1="187.6" y1="270.8" x2="202.8" y2="270.8" stroke="#222" stroke-width="0.5"/>
<line x1="187.6" y1="272.8" x2="202.8" y2="272.8" stroke="#222" stroke-width="0.5"/>
<line x1="187.6" y1="337.2" x2="202.8" y2="337.2" stroke="#222" stroke-width="0.5"/>
<line x1="187.6" y1="339.2" x2="202.8" y2="339.2" stroke="#222" stroke-width="0.5"/>
<line x1="126" y1="304" x2="139.5" y2="304" stroke="#333" stroke-width="0.4"/>
<line x1="126" y1="306" x2="139.5" y2="306" stroke="#333" stroke-width="0.4"/>
<line x1="155" y1="304" x2="173.4" y2="304" stroke="#333" stroke-width="0.4"/>
<line x1="155" y1="306" x2="173.4" y2="306" stroke="#333" stroke-width="0.4"/>
<line x1="187.4" y1="304" x2="206" y2="304" stroke="#333" stroke-width="0.4"/>
<line x1="187.4" y1="306" x2="206" y2="306" stroke="#333" stroke-width="0.4"/>
<line x1="221.4" y1="304" x2="238.8" y2="304" stroke="#333" stroke-width="0.4"/>
<line x1="221.4" y1="306" x2="238.8" y2="306" stroke="#333" stroke-width="0.4"/>
<line x1="178.3" y1="279.5" x2="178.3" y2="330.5" stroke="#222" stroke-width="0.7"/>
<line x1="182.1" y1="279.5" x2="182.1" y2="330.5" stroke="#222" stroke-width="0.7"/>
<circle cx="154.6" cy="271.8" r="3.2" fill="#fff" stroke="#000" stroke-width="0.8"/>
<circle cx="206.2" cy="271.8" r="3.2" fill="#fff" stroke="#000" stroke-width="0.8"/>
<circle cx="176.3" cy="262.5" r="2.1" fill="#fff" stroke="#000" stroke-width="1.0"/>
<circle cx="184.1" cy="262.5" r="2.1" fill="#fff" stroke="#000" stroke-width="1.0"/>
<circle cx="180.1" cy="271.8" r="7.2" fill="#fff" stroke="#000" stroke-width="1.3"/>
<circle cx="180.1" cy="271.8" r="3" fill="none" stroke="#000" stroke-width="1.0"/>
<circle cx="154.6" cy="338.2" r="3.2" fill="#fff" stroke="#000" stroke-width="0.8"/>
<circle cx="206.2" cy="338.2" r="3.2" fill="#fff" stroke="#000" stroke-width="0.8"/>
<circle cx="176.3" cy="347.5" r="2.1" fill="#fff" stroke="#000" stroke-width="1.0"/>
<circle cx="184.1" cy="347.5" r="2.1" fill="#fff" stroke="#000" stroke-width="1.0"/>
<circle cx="180.1" cy="338.2" r="7.2" fill="#fff" stroke="#000" stroke-width="1.3"/>
<circle cx="180.1" cy="338.2" r="3" fill="none" stroke="#000" stroke-width="1.0"/>
<circle cx="230.5" cy="264.9" r="4.7" fill="none" stroke="#000" stroke-width="0.9"/>
<circle cx="230.5" cy="264.9" r="2.7" fill="none" stroke="#000" stroke-width="1.3"/>
<circle cx="230.5" cy="264.9" r="0.9" fill="#333" stroke="#000" stroke-width="0.8"/>
<circle cx="244.6" cy="264.9" r="4.7" fill="none" stroke="#000" stroke-width="0.9"/>
<circle cx="244.6" cy="264.9" r="2.4" fill="none" stroke="#000" stroke-width="1.1"/>
<circle cx="230.5" cy="345.2" r="4.7" fill="none" stroke="#000" stroke-width="0.9"/>
<circle cx="230.5" cy="345.2" r="2.7" fill="none" stroke="#000" stroke-width="1.3"/>
<circle cx="230.5" cy="345.2" r="0.9" fill="#333" stroke="#000" stroke-width="0.8"/>
<circle cx="244.6" cy="345.2" r="4.7" fill="none" stroke="#000" stroke-width="0.9"/>
<circle cx="244.6" cy="345.2" r="2.4" fill="none" stroke="#000" stroke-width="1.1"/>
<ellipse cx="214" cy="345.4" rx="4" ry="2.7" fill="#fff" stroke="#000" stroke-width="1.1" transform="rotate(35 214 345.4)"/>
<line x1="209.6" y1="346.6" x2="213.4" y2="350.6" stroke="#000" stroke-width="1.8"/>
<line x1="116" y1="305" x2="258" y2="305" stroke="#222" stroke-width="0.6" stroke-dasharray="16 2.5 4 2.5"/>
<line x1="279.4" y1="305" x2="421.5" y2="305" stroke="#111" stroke-width="0.85" stroke-dasharray="27.5 6 6.5 6"/>
<path d="M255.6,250.6 L259.6,250.6 L278.8,256 L421.6,260" fill="none" stroke="#000" stroke-width="1.5" stroke-linejoin="round" stroke-linecap="round"/>
<path d="M259.6,252.4 L278.6,257.8 L421.6,261.8" fill="none" stroke="#000" stroke-width="0.8" stroke-linejoin="round" stroke-linecap="round"/>
<line x1="255.2" y1="249" x2="310.6" y2="249" stroke="#000" stroke-width="0.7"/>
<path d="M311.2,255.6 L311.2,249 Q311.4,247 314,246.6 L317.3,246.5 L415,249.4 L421.8,252.2" fill="none" stroke="#000" stroke-width="0.9" stroke-linejoin="round" stroke-linecap="round"/>
<line x1="317.3" y1="246.5" x2="317.3" y2="256.6" stroke="#000" stroke-width="0.9"/>
<path d="M386.2,248 L386.2,245.8 L394.6,245.9 L394.6,248.2" fill="none" stroke="#000" stroke-width="0.7" stroke-linejoin="round" stroke-linecap="round"/>
<line x1="415.2" y1="249.4" x2="415.2" y2="259.8" stroke="#000" stroke-width="0.9"/>
<path d="M261.2,283.6 L261.2,277.8 L421.6,272.6" fill="none" stroke="#000" stroke-width="0.9" stroke-linejoin="round" stroke-linecap="round"/>
<line x1="261.2" y1="279.4" x2="421.6" y2="274.2" stroke="#000" stroke-width="0.7"/>
<path d="M261.2,326.6 L261.2,334.2 L409.6,339.4" fill="none" stroke="#000" stroke-width="0.9" stroke-linejoin="round" stroke-linecap="round"/>
<line x1="261.2" y1="332.6" x2="409.6" y2="337.8" stroke="#000" stroke-width="0.7"/>
<line x1="258.8" y1="287.4" x2="258.8" y2="326.8" stroke="#000" stroke-width="0.9"/>
<line x1="259.4" y1="287.4" x2="271.8" y2="287.4" stroke="#000" stroke-width="1.6"/>
<line x1="259.4" y1="326.8" x2="271.8" y2="326.8" stroke="#000" stroke-width="1.6"/>
<line x1="258.8" y1="305" x2="271.8" y2="305" stroke="#000" stroke-width="1.5"/>
<line x1="421.9" y1="251.6" x2="421.9" y2="341.4" stroke="#000" stroke-width="1.7"/>
<path d="M421.9,341.4 L410.6,341.4 L410.6,379.2" fill="none" stroke="#000" stroke-width="0.9" stroke-linejoin="round" stroke-linecap="round"/>
<path d="M421.9,339.4 L408.6,339.4 L408.6,377" fill="none" stroke="#000" stroke-width="0.7" stroke-linejoin="round" stroke-linecap="round"/>
<line x1="273.3" y1="379.2" x2="410.6" y2="379.2" stroke="#000" stroke-width="0.9"/>
<line x1="273.3" y1="377.2" x2="408.6" y2="377.2" stroke="#000" stroke-width="0.7"/>
<rect x="255.2" y="371.1" width="18.1" height="8.1" fill="none" stroke="#000" stroke-width="0.9"/>
<line x1="255.2" y1="375.1" x2="273.3" y2="375.1" stroke="#000" stroke-width="0.7"/>
<path d="M429,287.6 L430.4,283.2 Q430.8,282.2 432,282.2 L443.4,282.2 Q444.6,282.2 445,283.4 L446.2,287.6 Z" fill="none" stroke="#000" stroke-width="1.6" stroke-linejoin="round" stroke-linecap="round"/>
<path d="M446.2,287.6 Q447.5,296.0 447.5,305.0" fill="none" stroke="#000" stroke-width="1.5" stroke-linejoin="round" stroke-linecap="round"/>
<path d="M444.4,288.4 Q445.6,296.0 445.6,305.0" fill="none" stroke="#000" stroke-width="0.9" stroke-linejoin="round" stroke-linecap="round"/>
<path d="M429,287.6 L427.4,288.6 L427.4,283.6 L423,283.6 L423,305.0" fill="none" stroke="#000" stroke-width="1.3" stroke-linejoin="round" stroke-linecap="round"/>
<line x1="433.1" y1="287.6" x2="433.1" y2="303.5" stroke="#111" stroke-width="2.8"/>
<line x1="439.2" y1="287.6" x2="439.2" y2="303.5" stroke="#111" stroke-width="1.8"/>
<path d="M428.6,303.5 Q425,296.0 429.6,288.4" fill="none" stroke="#000" stroke-width="2.0" stroke-linejoin="round" stroke-linecap="round"/>
<path d="M431,303.0 Q428.4,297.0 431.4,290.0" fill="none" stroke="#000" stroke-width="1.1" stroke-linejoin="round" stroke-linecap="round"/>
<line x1="424.8" y1="288" x2="424.8" y2="305" stroke="#000" stroke-width="1.4"/>
<path d="M429,322.4 L430.4,326.8 Q430.8,327.8 432,327.8 L443.4,327.8 Q444.6,327.8 445,326.6 L446.2,322.4 Z" fill="none" stroke="#000" stroke-width="1.6" stroke-linejoin="round" stroke-linecap="round"/>
<path d="M446.2,322.4 Q447.5,314.0 447.5,305.0" fill="none" stroke="#000" stroke-width="1.5" stroke-linejoin="round" stroke-linecap="round"/>
<path d="M444.4,321.6 Q445.6,314.0 445.6,305.0" fill="none" stroke="#000" stroke-width="0.9" stroke-linejoin="round" stroke-linecap="round"/>
<path d="M429,322.4 L427.4,321.4 L427.4,326.4 L423,326.4 L423,305.0" fill="none" stroke="#000" stroke-width="1.3" stroke-linejoin="round" stroke-linecap="round"/>
<line x1="433.1" y1="322.4" x2="433.1" y2="306.5" stroke="#111" stroke-width="2.8"/>
<line x1="439.2" y1="322.4" x2="439.2" y2="306.5" stroke="#111" stroke-width="1.8"/>
<path d="M428.6,306.5 Q425,314.0 429.6,321.6" fill="none" stroke="#000" stroke-width="2.0" stroke-linejoin="round" stroke-linecap="round"/>
<path d="M431,307.0 Q428.4,313.0 431.4,320.0" fill="none" stroke="#000" stroke-width="1.1" stroke-linejoin="round" stroke-linecap="round"/>
<line x1="424.8" y1="322" x2="424.8" y2="305" stroke="#000" stroke-width="1.4"/>
<rect x="423" y="303.6" width="17.4" height="2.8" fill="#111" stroke="#000" stroke-width="0.8"/>
<rect x="436.2" y="301.2" width="4" height="7.6" fill="#111" stroke="#000" stroke-width="0.8"/>
</g>
<g stroke="#000" stroke-width="0.25">
<line x1="70" y1="54.3" x2="123.5" y2="54.3" stroke="#222" stroke-width="0.6"/>
<line x1="70" y1="163.3" x2="120" y2="163.3" stroke="#222" stroke-width="0.6"/>
<line x1="76.3" y1="54.3" x2="76.3" y2="163.3" stroke="#222" stroke-width="0.6"/>
<polygon points="76.3,54.3 74.35,64.8 78.25,64.8" fill="#000"/>
<polygon points="76.3,163.3 74.35,152.8 78.25,152.8" fill="#000"/>
<text x="69.1" y="108.8" font-size="15" text-anchor="middle" fill="#000" transform="rotate(-90 69.1 108.8)">153 [6.0&quot;]</text>
<line x1="311.3" y1="35" x2="311.3" y2="63" stroke="#222" stroke-width="0.6"/>
<line x1="419.5" y1="35" x2="419.5" y2="64" stroke="#222" stroke-width="0.6"/>
<line x1="311.3" y1="41.9" x2="419.5" y2="41.9" stroke="#222" stroke-width="0.6"/>
<polygon points="311.4,41.9 321.9,39.95 321.9,43.85" fill="#000"/>
<polygon points="419.5,41.9 409,39.95 409,43.85" fill="#000"/>
<text x="367.3" y="34.7" font-size="15" text-anchor="middle" fill="#000" textLength="62.3" lengthAdjust="spacingAndGlyphs">151 [5.9&quot;]</text>
<line x1="72.5" y1="243.2" x2="509.5" y2="243.2" stroke="#222" stroke-width="0.6"/>
<line x1="72.5" y1="355.5" x2="123" y2="355.5" stroke="#222" stroke-width="0.6"/>
<line x1="79" y1="243.2" x2="79" y2="355.5" stroke="#222" stroke-width="0.6"/>
<polygon points="79,243.2 77.05,253.7 80.95,253.7" fill="#000"/>
<polygon points="79,355.5 77.05,345 80.95,345" fill="#000"/>
<text x="72.1" y="309.8" font-size="15" text-anchor="middle" fill="#000" transform="rotate(-90 72.1 309.8)">157.5 [6.2&quot;]</text>
<line x1="100" y1="271.8" x2="126" y2="271.8" stroke="#222" stroke-width="0.6"/>
<line x1="100" y1="338.3" x2="126" y2="338.3" stroke="#222" stroke-width="0.6"/>
<line x1="126" y1="271.8" x2="212" y2="271.8" stroke="#222" stroke-width="0.5" stroke-dasharray="16 2.5 4 2.5"/>
<line x1="126" y1="338.3" x2="212" y2="338.3" stroke="#222" stroke-width="0.5" stroke-dasharray="16 2.5 4 2.5"/>
<line x1="107.5" y1="271.8" x2="107.5" y2="338.3" stroke="#222" stroke-width="0.6"/>
<polygon points="107.5,271.8 105.55,282.3 109.45,282.3" fill="#000"/>
<polygon points="107.5,338.3 105.55,327.8 109.45,327.8" fill="#000"/>
<text x="100" y="304" font-size="15" text-anchor="middle" fill="#000" transform="rotate(-90 100 304)">93 [3.7&quot;]</text>
<line x1="56" y1="380.8" x2="201.5" y2="380.8" stroke="#222" stroke-width="0.6"/>
<polygon points="154.3,380.8 143.8,378.85 143.8,382.75" fill="#000"/>
<polygon points="180.3,380.8 190.8,378.85 190.8,382.75" fill="#000"/>
<text x="60" y="374.2" font-size="15" text-anchor="start" fill="#000">36 [1.4&quot;]</text>
<line x1="56" y1="410" x2="206.3" y2="410" stroke="#222" stroke-width="0.6"/>
<polygon points="154.7,410 165.2,408.05 165.2,411.95" fill="#000"/>
<polygon points="206,410 195.5,408.05 195.5,411.95" fill="#000"/>
<text x="59.3" y="403.4" font-size="15" text-anchor="start" fill="#000">72 [2.8&quot;]</text>
<line x1="154.5" y1="246.5" x2="154.5" y2="356" stroke="#222" stroke-width="0.55" stroke-dasharray="16 2.5 4 2.5"/>
<line x1="154.5" y1="356" x2="154.5" y2="416" stroke="#222" stroke-width="0.6"/>
<line x1="180.1" y1="246.5" x2="180.1" y2="356" stroke="#222" stroke-width="0.55" stroke-dasharray="16 2.5 4 2.5"/>
<line x1="180.1" y1="356" x2="180.1" y2="387" stroke="#222" stroke-width="0.6"/>
<line x1="206.2" y1="246.5" x2="206.2" y2="356" stroke="#222" stroke-width="0.55" stroke-dasharray="16 2.5 4 2.5"/>
<line x1="206.2" y1="356" x2="206.2" y2="416" stroke="#222" stroke-width="0.6"/>
<line x1="119.6" y1="355" x2="119.6" y2="474.5" stroke="#222" stroke-width="0.6"/>
<line x1="254.5" y1="379" x2="254.5" y2="443" stroke="#222" stroke-width="0.6"/>
<line x1="119.5" y1="436.7" x2="254.5" y2="436.7" stroke="#222" stroke-width="0.6"/>
<polygon points="119.7,436.7 130.2,434.75 130.2,438.65" fill="#000"/>
<polygon points="254.4,436.7 243.9,434.75 243.9,438.65" fill="#000"/>
<text x="190" y="430.2" font-size="15" text-anchor="middle" fill="#000">189.3 [7.5&quot;]</text>
<line x1="446.3" y1="327" x2="446.3" y2="474.5" stroke="#222" stroke-width="0.6"/>
<line x1="119.5" y1="468" x2="446.3" y2="468" stroke="#222" stroke-width="0.6"/>
<polygon points="119.7,468 130.2,466.05 130.2,469.95" fill="#000"/>
<polygon points="446.2,468 435.7,466.05 435.7,469.95" fill="#000"/>
<text x="288.2" y="462" font-size="15" text-anchor="middle" fill="#000">456.8 [18.0&quot;]</text>
<line x1="414" y1="249.3" x2="485" y2="249.3" stroke="#222" stroke-width="0.6"/>
<line x1="411" y1="379.2" x2="509.5" y2="379.2" stroke="#222" stroke-width="0.6"/>
<line x1="478.8" y1="249.3" x2="478.8" y2="379.2" stroke="#222" stroke-width="0.6"/>
<polygon points="478.8,249.3 476.85,259.8 480.75,259.8" fill="#000"/>
<polygon points="478.8,379.2 476.85,368.7 480.75,368.7" fill="#000"/>
<text x="472" y="312.4" font-size="15" text-anchor="middle" fill="#000" transform="rotate(-90 472 312.4)" textLength="62.1" lengthAdjust="spacingAndGlyphs">181 [7.1&quot;]</text>
<line x1="503" y1="243.2" x2="503" y2="379.2" stroke="#222" stroke-width="0.6"/>
<polygon points="503,243.2 501.05,253.7 504.95,253.7" fill="#000"/>
<polygon points="503,379.2 501.05,368.7 504.95,368.7" fill="#000"/>
<text x="496" y="316" font-size="15" text-anchor="middle" fill="#000" transform="rotate(-90 496 316)">190 [7.5&quot;]</text>
<line x1="248.8" y1="408.3" x2="302.5" y2="408.3" stroke="#222" stroke-width="0.6"/>
<line x1="248.8" y1="408.3" x2="212" y2="349" stroke="#222" stroke-width="0.6"/>
<text x="262.5" y="404.5" font-size="15" text-anchor="start" fill="#000">6-<tspan font-family="DejaVu Sans, sans-serif" font-size="12.4" stroke="none">∅</tspan>10</text>
</g>
</svg>
</body>
</html>
